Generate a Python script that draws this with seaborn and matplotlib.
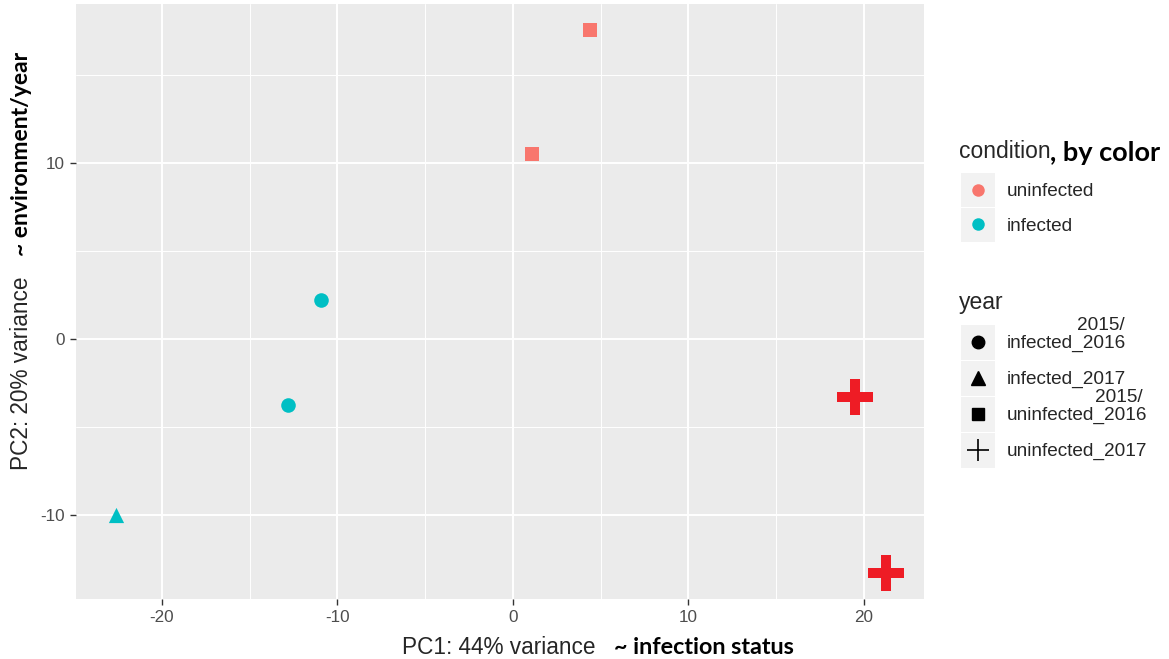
"""
PCA plot of samples, coloured by condition, shaped by year group
"""

import numpy as np
import pandas as pd
import matplotlib.pyplot as plt
from matplotlib.lines import Line2D
from matplotlib.patches import Rectangle
from matplotlib.path import Path
import seaborn as sns

sns.set_theme(style="darkgrid")
plt.rcParams["font.family"] = ["Liberation Sans", "DejaVu Sans"]
plt.rcParams["axes.unicode_minus"] = False

# values
pc1 = [4.39, 1.08, -10.94, -12.82, -22.62, 19.49, 21.25]
pc2 = [17.56, 10.51, 2.22, -3.75, -10.0, -3.30, -13.30]
condition = ["uninfected", "uninfected", "infected", "infected", "infected",
             "uninfected", "uninfected"]
year = ["uninfected_2016", "uninfected_2016", "infected_2016", "infected_2016",
        "infected_2017", "uninfected_2017", "uninfected_2017"]

year_levels = ["infected_2016", "infected_2017", "uninfected_2016", "uninfected_2017"]
year_labels = ["infected_2016", "infected_2017", "uninfected_2016", "uninfected_2017"]
year_prefix = ["2015/", "", "2015/", ""]
cond_levels = ["uninfected", "infected"]

cond_colors = {"uninfected": "#F8766D", "infected": "#00BFC4"}
point_colors = {"infected_2016": "#00BFC4", "infected_2017": "#00BFC4",
                "uninfected_2016": "#F8766D", "uninfected_2017": "#EE1C25"}

# thick plus with narrower arms than matplotlib's "P"
a, b = 0.13, 0.5
thick_plus = Path([(-a, b), (a, b), (a, a), (b, a), (b, -a), (a, -a), (a, -b),
                   (-a, -b), (-a, -a), (-b, -a), (-b, a), (-a, a), (-a, b)])
markers = {"infected_2016": "o", "infected_2017": "^",
           "uninfected_2016": "s", "uninfected_2017": thick_plus}

df = pd.DataFrame({"PC1": pc1, "PC2": pc2, "condition": condition, "year": year})

W, H = 1169, 659
fig = plt.figure(figsize=(W / 100, H / 100), dpi=100)
ax = fig.add_axes([76 / W, 1 - 599 / H, (924 - 76) / W, (599 - 4) / H])
ax.set_facecolor("#EBEBEB")

sizes = {"infected_2016": 110, "infected_2017": 120,
         "uninfected_2016": 110, "uninfected_2017": 640}
for lev in year_levels:
    sub = df[df["year"] == lev]
    sns.scatterplot(data=sub, x="PC1", y="PC2", color=point_colors[lev],
                    marker=markers[lev], s=sizes[lev], linewidth=0,
                    ax=ax, legend=False, zorder=3)

ax.set_xlim(-24.9, 23.42)
ax.set_ylim(-14.77, 19.03)
ax.set_xticks([-20, -10, 0, 10, 20])
ax.set_yticks([-10, 0, 10])
ax.set_xticks([-15, -5, 5, 15], minor=True)
ax.set_yticks([-5, 5, 15], minor=True)
ax.grid(which="major", color="white", linewidth=1.4)
ax.grid(which="minor", color="white", linewidth=0.7)
for sp in ax.spines.values():
    sp.set_visible(False)
ax.tick_params(which="major", length=4, width=1, color="#333333",
               labelsize=12.3, labelcolor="#4D4D4D", pad=4)
ax.tick_params(which="minor", length=0)
ax.tick_params(axis="both", which="major", bottom=True, left=True)
ax.set_xlabel("")
ax.set_ylabel("")

# axis titles with the bold annotations
bold = dict(family=["Lato", "DejaVu Sans"], weight="bold", color="black")
fig.text(402 / W, 1 - 648 / H, "PC1: 44% variance", fontsize=16.3, ha="left", va="center")
fig.text(614 / W, 1 - 648 / H, "~ infection status", fontsize=16.8, ha="left", va="center", **bold)
fig.text(22 / W, 1 - 470 / H, "PC2: 20% variance", fontsize=16.3, rotation=90,
         ha="center", va="bottom")
fig.text(22 / W, 1 - 256 / H, "~ environment/year", fontsize=16.5, rotation=90,
         ha="center", va="bottom", **bold)

# legends drawn by hand, ggplot style
def key_box(y_top, y_bot):
    fig.add_artist(Rectangle((961 / W, 1 - y_bot / H), 34 / W, (y_bot - y_top - 1) / H,
                             transform=fig.transFigure, facecolor="#F2F2F2",
                             edgecolor="none"))

def key_marker(yc, marker, color, ms, **kw):
    fig.add_artist(Line2D([978 / W], [1 - yc / H], transform=fig.transFigure,
                          marker=marker, color=color, markersize=ms, linestyle="none", **kw))

fig.text(959 / W, 1 - 151 / H, "condition", fontsize=16.5, ha="left", va="center")
fig.text(1050 / W, 1 - 153 / H, ", by color", fontsize=19.5, ha="left", va="center", **bold)
cond_rows = [(172, 207), (207, 242)]
for lev, (t, b) in zip(cond_levels, cond_rows):
    key_box(t, b)
    key_marker((t + b) / 2, "o", cond_colors[lev], 9, markeredgewidth=0)
    fig.text(1007 / W, 1 - ((t + b) / 2 + 2) / H, lev, fontsize=13.7, ha="left", va="center")

fig.text(959 / W, 1 - 303 / H, "year", fontsize=16.5, ha="left", va="center")
year_rows = [(324, 360), (360, 396), (396, 432), (432, 468)]
key_styles = [("o", 9, {}), ("^", 10, {}), ("s", 9, {}), ("+", 16, {"markeredgewidth": 1.2})]
for lab, pre, (t, b), (mk, ms, kw) in zip(year_labels, year_prefix, year_rows, key_styles):
    key_box(t, b)
    key_marker((t + b) / 2, mk, "black", ms, **kw)
    fig.text(1007 / W, 1 - ((t + b) / 2 + 1) / H, lab, fontsize=13.7, ha="left", va="center")
    if pre:
        # the "2015/" part sits above the label, right-aligned near its end
        fig.text((1007 + len(lab) * 9.2 - 2) / W, 1 - ((t + b) / 2 - 17) / H, pre,
                 fontsize=13.7, ha="right", va="center")

fig.savefig("out.png", dpi=100)
